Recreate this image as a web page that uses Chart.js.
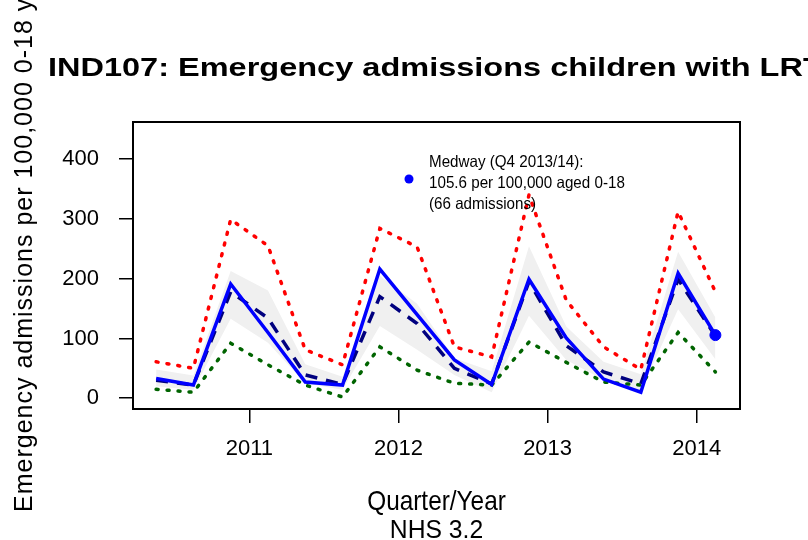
<!DOCTYPE html>
<html>
<head>
<meta charset="utf-8">
<title>IND107 Emergency admissions</title>
<script src="https://cdn.jsdelivr.net/npm/chart.js@4/dist/chart.umd.min.js"></script>
<style>
    html, body { margin: 0; padding: 0; background: #fff; }
    #chart { display: block; }
</style>
</head>
<body>
<canvas id="chart" width="808" height="540"></canvas>
<script>
// Quarter mid-points (financial quarters, 2010/11 Q1 .. 2013/14 Q4)
const quarterLabels = ['2010/11 Q1', '2010/11 Q2', '2010/11 Q3', '2010/11 Q4',
    '2011/12 Q1', '2011/12 Q2', '2011/12 Q3', '2011/12 Q4',
    '2012/13 Q1', '2012/13 Q2', '2012/13 Q3', '2012/13 Q4',
    '2013/14 Q1', '2013/14 Q2', '2013/14 Q3', '2013/14 Q4'];
const quarterPos = [2010.375, 2010.625, 2010.875, 2011.125,
    2011.375, 2011.625, 2011.875, 2012.125,
    2012.375, 2012.625, 2012.875, 2013.125,
    2013.375, 2013.625, 2013.875, 2014.125];

// Rates per 100,000 aged 0-18
const medway = [33, 22, 191, 110, 27, 22, 216, 140, 64, 23, 199, 101, 32, 10, 209, 105.6];
const average = [30, 22, 178, 134, 39, 23, 170, 125, 50, 24, 195, 88, 44, 24, 199, 104];
const upperLimit = [61, 50, 299, 255, 81, 56, 284, 253, 86, 69, 340, 164, 86, 48, 312, 178];
const lowerLimit = [15, 10, 92, 56, 22, 2, 86, 47, 25, 22, 94, 60, 27, 22, 110, 44];
const bandHigh = [48, 38, 213, 180, 57, 36, 205, 158, 67, 45, 254, 120, 61, 40, 245, 135];
const bandLow = [20, 14, 133, 93, 25, 14, 121, 81, 39, 10, 138, 64, 31, 12, 149, 65];

const yearTicks = [2011, 2012, 2013, 2014];
const rateTicks = [0, 100, 200, 300, 400];

const latestIndex = medway.length - 1;
const latestText = [
    'Medway (Q4 2013/14):',
    medway[latestIndex].toFixed(1) + ' per 100,000 aged 0-18',
    '(66 admissions)'
];

const toPoints = (values) => values.map((v, i) => ({ x: quarterPos[i], y: v }));

// titles, box and the annotation text
const decorations = {
    id: 'decorations',
    afterDraw(chart) {
        const ctx = chart.ctx;
        const area = chart.chartArea;

        ctx.save();
        ctx.strokeStyle = '#000';
        ctx.lineWidth = 2;
        ctx.strokeRect(area.left, area.top, area.right - area.left, area.bottom - area.top);
        ctx.restore();

        const drawText = (text, x, y, font, sx, align) => {
            ctx.save();
            ctx.font = font;
            ctx.fillStyle = '#000';
            ctx.textBaseline = 'alphabetic';
            ctx.textAlign = align || 'left';
            ctx.translate(x, y);
            ctx.scale(sx, 1);
            ctx.fillText(text, 0, 0);
            ctx.restore();
        };

        drawText('IND107: Emergency admissions children with LRTI', 48, 76,
            'bold 25px "Liberation Sans", Arial, sans-serif', 1.3);

        const midX = (area.left + area.right) / 2;
        drawText('Quarter/Year', midX, 510, '28px "Liberation Sans", Arial, sans-serif', 0.87, 'center');
        drawText('NHS 3.2', midX, 538, '26px "Liberation Sans", Arial, sans-serif', 0.95, 'center');

        // rotated y axis title, letters spread out a little
        ctx.save();
        ctx.translate(32, 512);
        ctx.rotate(-Math.PI / 2);
        ctx.font = '25px "Liberation Sans", Arial, sans-serif';
        ctx.letterSpacing = '1px';
        ctx.fillStyle = '#000';
        ctx.textAlign = 'left';
        ctx.fillText('Emergency admissions per 100,000 0-18 years', 0, 0);
        ctx.restore();

        // latest value note
        ctx.save();
        ctx.fillStyle = '#0000ff';
        ctx.beginPath();
        ctx.arc(409, 179, 4.5, 0, Math.PI * 2);
        ctx.fill();
        ctx.restore();
        latestText.forEach((line, i) => {
            drawText(line, 429, 167 + i * 20.8, '16.5px "Liberation Sans", Arial, sans-serif', 0.92);
        });
    }
};

const ctx = document.getElementById('chart').getContext('2d');

new Chart(ctx, {
    type: 'line',
    data: {
        datasets: [
            {
                label: 'band high',
                data: toPoints(bandHigh),
                borderWidth: 0,
                pointRadius: 0,
                backgroundColor: '#f0f0f0',
                fill: '+1',
                order: 6
            },
            {
                label: 'band low',
                data: toPoints(bandLow),
                borderWidth: 0,
                pointRadius: 0,
                fill: false,
                order: 5
            },
            {
                label: 'upper',
                data: toPoints(upperLimit),
                borderColor: '#ff0000',
                borderWidth: 3.5,
                borderDash: [2, 9],
                borderCapStyle: 'round',
                pointRadius: 0,
                fill: false,
                order: 4
            },
            {
                label: 'lower',
                data: toPoints(lowerLimit),
                borderColor: '#006400',
                borderWidth: 3.5,
                borderDash: [2, 9],
                borderCapStyle: 'round',
                pointRadius: 0,
                fill: false,
                order: 3
            },
            {
                label: 'average',
                data: toPoints(average),
                borderColor: '#00007f',
                borderWidth: 3.5,
                borderDash: [12, 9],
                pointRadius: 0,
                fill: false,
                order: 2
            },
            {
                label: 'Medway',
                data: toPoints(medway),
                borderColor: '#0000ff',
                borderWidth: 3.5,
                pointRadius: 0,
                fill: false,
                order: 1
            },
            {
                label: 'latest',
                data: [{ x: quarterPos[latestIndex], y: medway[latestIndex] }],
                borderColor: '#0000ff',
                backgroundColor: '#0000ff',
                pointRadius: 5.5,
                showLine: false,
                order: 0
            }
        ]
    },
    options: {
        responsive: false,
        animation: false,
        events: [],
        layout: { padding: { left: 0, right: 68, top: 122, bottom: 0 } },
        plugins: {
            legend: { display: false },
            tooltip: { enabled: false }
        },
        scales: {
            x: {
                type: 'linear',
                min: 2010.22,
                max: 2014.29,
                afterBuildTicks: (scale) => { scale.ticks = yearTicks.map(v => ({ value: v })); },
                afterFit: (scale) => { scale.height = 131; },
                grid: { drawOnChartArea: false, drawTicks: true, tickLength: 14, color: '#000', lineWidth: 1.5 },
                border: { display: false },
                ticks: {
                    color: '#000',
                    padding: 13,
                    maxRotation: 0,
                    font: { family: '"Liberation Sans", Arial, sans-serif', size: 22 },
                    callback: (v) => String(v)
                }
            },
            y: {
                min: -18,
                max: 462,
                afterBuildTicks: (scale) => { scale.ticks = rateTicks.map(v => ({ value: v })); },
                afterFit: (scale) => { scale.width = 133; },
                grid: { drawOnChartArea: false, drawTicks: true, tickLength: 14, color: '#000', lineWidth: 1.5 },
                border: { display: false },
                ticks: {
                    color: '#000',
                    padding: 20,
                    font: { family: '"Liberation Sans", Arial, sans-serif', size: 22 }
                }
            }
        }
    },
    plugins: [decorations]
});
</script>
</body>
</html>
